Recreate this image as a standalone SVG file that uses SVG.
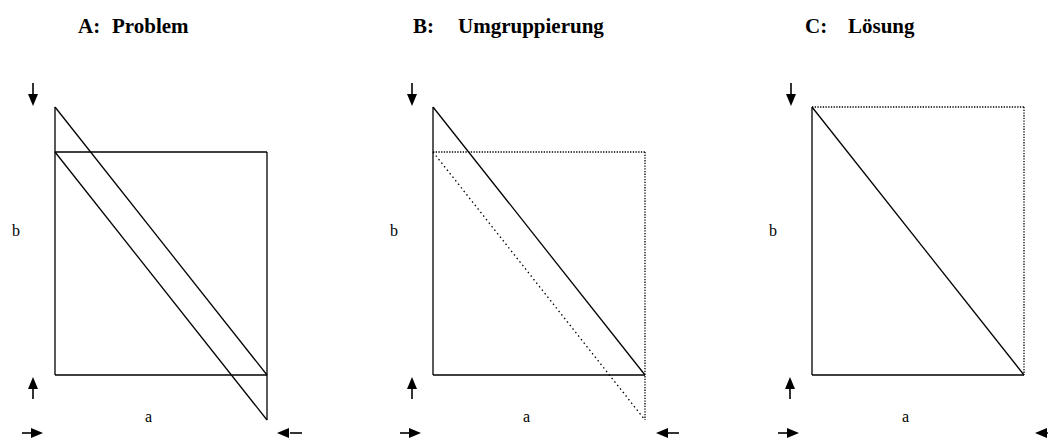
<svg xmlns="http://www.w3.org/2000/svg" width="1048" height="439" viewBox="0 0 1048 439">
<style>
.t{font-family:"Liberation Serif","Times New Roman",serif;font-weight:bold;font-size:21px;fill:#000}
.l{font-family:"Liberation Serif","Times New Roman",serif;font-size:16px;fill:#000}
.s{stroke:#000;stroke-width:1.3;fill:none}
.d{stroke:#000;stroke-width:1.3;fill:none;stroke-dasharray:1.3 1.4}
.dd{stroke:#000;stroke-width:1.3;fill:none;stroke-dasharray:1.5 3}
.ar{stroke:#000;stroke-width:1.6;fill:none}
.ah{fill:#000}
</style>
<rect width="1048" height="439" fill="#fff"/>
<g id="panelA">
<text class="t" y="33"><tspan x="78">A:</tspan><tspan x="112">Problem</tspan></text>
<line class="s" x1="55" y1="107" x2="55" y2="375"/>
<line class="s" x1="55" y1="152" x2="267" y2="152"/>
<line class="s" x1="55" y1="375" x2="267" y2="375"/>
<line class="s" x1="267" y1="152" x2="267" y2="420"/>
<line class="s" x1="55" y1="107" x2="267" y2="375"/>
<line class="s" x1="55" y1="152" x2="267" y2="420"/>
<text class="l" x="12" y="236">b</text>
<text class="l" x="145" y="422">a</text>
</g>
<g id="panelB">
<text class="t" y="33"><tspan x="413">B:</tspan><tspan x="458">Umgruppierung</tspan></text>
<line class="s" x1="433" y1="107" x2="433" y2="375"/>
<line class="s" x1="433" y1="375" x2="645" y2="375"/>
<line class="s" x1="433" y1="107" x2="645" y2="375"/>
<line class="d" x1="433" y1="152" x2="645" y2="152"/>
<line class="d" x1="645" y1="152" x2="645" y2="420"/>
<line class="dd" x1="433" y1="152" x2="645" y2="420"/>
<text class="l" x="390" y="236">b</text>
<text class="l" x="523" y="422">a</text>
</g>
<g id="panelC">
<text class="t" y="33"><tspan x="805">C:</tspan><tspan x="848">Lösung</tspan></text>
<line class="s" x1="812" y1="107" x2="812" y2="375"/>
<line class="s" x1="812" y1="375" x2="1024" y2="375"/>
<line class="s" x1="812" y1="107" x2="1024" y2="375"/>
<line class="d" x1="812" y1="107" x2="1024" y2="107"/>
<line class="d" x1="1024" y1="107" x2="1024" y2="375"/>
<text class="l" x="769" y="236">b</text>
<text class="l" x="902" y="422">a</text>
</g>
<g id="connectors">
<line class="ar" x1="33" y1="83" x2="33" y2="96"/><polygon class="ah" points="28,94 38,94 33,106"/>
<line class="ar" x1="33" y1="399" x2="33" y2="387"/><polygon class="ah" points="28,389 38,389 33,377"/>
<line class="ar" x1="22" y1="433" x2="33" y2="433"/><polygon class="ah" points="31,428 31,438 43,433"/>
<line class="ar" x1="302" y1="433" x2="290" y2="433"/><polygon class="ah" points="289,428 289,438 277,433"/>
<line class="ar" x1="412" y1="83" x2="412" y2="96"/><polygon class="ah" points="407,94 417,94 412,106"/>
<line class="ar" x1="412" y1="399" x2="412" y2="387"/><polygon class="ah" points="407,389 417,389 412,377"/>
<line class="ar" x1="400" y1="433" x2="411" y2="433"/><polygon class="ah" points="409,428 409,438 421,433"/>
<line class="ar" x1="679" y1="433" x2="667" y2="433"/><polygon class="ah" points="668,428 668,438 656,433"/>
<line class="ar" x1="791" y1="83" x2="791" y2="96"/><polygon class="ah" points="786,94 796,94 791,106"/>
<line class="ar" x1="790" y1="399" x2="790" y2="387"/><polygon class="ah" points="785,389 795,389 790,377"/>
<line class="ar" x1="778" y1="433" x2="789" y2="433"/><polygon class="ah" points="787,428 787,438 799,433"/>
<line class="ar" x1="1060" y1="433" x2="1046" y2="433"/><polygon class="ah" points="1047,428 1047,438 1035,433"/>
</g>
</svg>
